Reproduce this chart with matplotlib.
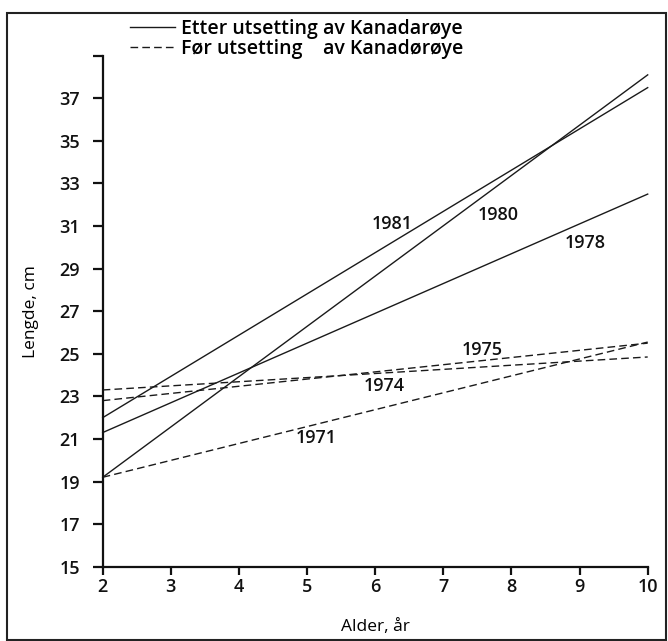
import matplotlib
matplotlib.use("Agg")
import matplotlib.pyplot as plt
from matplotlib.patches import Rectangle

plt.rcParams['font.family'] = ['Open Sans', 'DejaVu Sans']

# ---- data ----
ages = [2, 10]
# after introduction of Kanadarøye (solid)
len_1981 = [22.0, 37.5]
len_1980 = [19.2, 38.1]
len_1978 = [21.3, 32.5]
# before introduction (dashed)
len_1975 = [23.3, 24.85]
len_1974 = [22.8, 25.5]
len_1971 = [19.2, 25.55]

solid_years = ["1981", "1980", "1978"]
dashed_years = ["1975", "1974", "1971"]

x_ticks = [2, 3, 4, 5, 6, 7, 8, 9, 10]
y_ticks = [15, 17, 19, 21, 23, 25, 27, 29, 31, 33, 35, 37, 39]
y_ticklabels = ["15", "17", "19", "21", "23", "25", "27", "29", "31", "33", "35", "37", ""]

legend_labels = ["Etter utsetting av Kanadarøye", "Før utsetting    av Kanadørøye"]
xlabel = "Alder, år"
ylabel = "Lengde, cm"

# label positions (x, y in data units)
label_pos = {"1981": (6.25, 31.1), "1980": (7.8, 31.5), "1978": (9.08, 30.2),
             "1975": (7.57, 25.2), "1974": (6.13, 23.5), "1971": (5.14, 21.05)}

W, H = 668, 641
fig = plt.figure(figsize=(W / 100, H / 100), dpi=100)
fig.patch.set_facecolor("white")

def fx(px):
    return px / W

def fy(py):
    return 1 - py / H

ax = fig.add_axes([fx(102.7), fy(566.7), fx(647.7) - fx(102.7), fy(55.7) - fy(566.7)])
ax.set_xlim(2, 10)
ax.set_ylim(15, 39)

lc = "#1a1a1a"
solid_series = [len_1981, len_1980, len_1978]
dashed_series = [len_1975, len_1974, len_1971]
handles = []
for i, s in enumerate(solid_series):
    ln, = ax.plot(ages, s, color=lc, lw=1.0, clip_on=False)
    if i == 0:
        handles.append(ln)
for i, s in enumerate(dashed_series):
    ln, = ax.plot(ages, s, color=lc, lw=1.0, linestyle=(0, (5.5, 3)), clip_on=False)
    if i == 0:
        handles.append(ln)

for yr in solid_years + dashed_years:
    x, y = label_pos[yr]
    ax.text(x, y, yr, ha="center", va="center", fontsize=13, fontweight="semibold", color="#111")

for side in ["top", "right"]:
    ax.spines[side].set_visible(False)
for side in ["left", "bottom"]:
    ax.spines[side].set_linewidth(1.6)
    ax.spines[side].set_color("#111")

ax.set_xticks(x_ticks)
ax.set_xticklabels([str(t) for t in x_ticks], fontsize=13, fontweight="semibold")
ax.set_yticks(y_ticks)
ax.set_yticklabels(y_ticklabels, fontsize=13, fontweight="semibold")
ax.tick_params(axis="y", direction="out", length=7.2, width=1.6, pad=9, colors="#111")
ax.tick_params(axis="x", direction="out", length=6.0, width=1.6, pad=2, colors="#111")

ax.set_xlabel(xlabel, fontsize=12.5, labelpad=17)
ax.set_ylabel(ylabel, fontsize=12.5, labelpad=15)

leg = fig.legend(handles, legend_labels, loc="upper left",
                 bbox_to_anchor=(fx(130), fy(19)), frameon=False,
                 prop={"size": 14, "weight": "semibold"},
                 handlelength=2.3, handletextpad=0.3,
                 labelspacing=0.0, borderaxespad=0, borderpad=0)

# outer frame
fig.patches.append(Rectangle((fx(7), fy(640)), fx(666) - fx(7), fy(13) - fy(640),
                             transform=fig.transFigure, fill=False, lw=1.5,
                             edgecolor="#222"))

fig.savefig("out.png", dpi=100, facecolor="white")
